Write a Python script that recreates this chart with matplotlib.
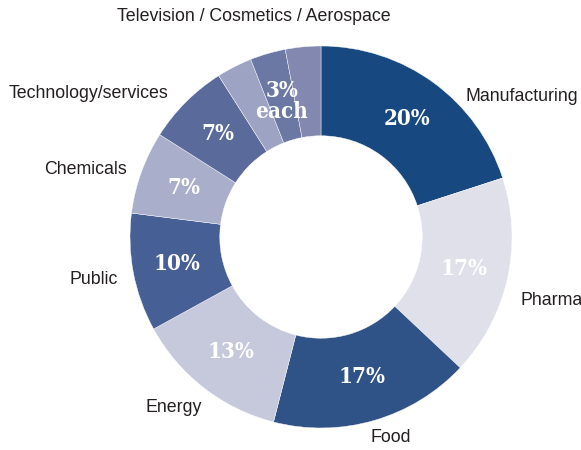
import matplotlib
matplotlib.use("Agg")
import matplotlib.pyplot as plt
import numpy as np

# Anteile der Branchen, im Uhrzeigersinn ab 12 Uhr
sektoren = ["Manufacturing", "Pharma", "Food", "Energy", "Public",
            "Chemicals", "Technology/services", "Television", "Cosmetics", "Aerospace"]
anteile = [20, 17, 17, 13, 10, 7, 7, 3, 3, 3]
farben = ["#17487f", "#dfe0ea", "#305387", "#c6c8dc", "#465f94",
          "#a9aeca", "#5a6a9a", "#9da3c2", "#6b78a4", "#8288b0"]

# Beschriftungen aussen (die drei kleinen Sektoren teilen sich eine)
aussen_text = ["Manufacturing", "Pharma", "Food", "Energy", "Public",
               "Chemicals", "Technology/services", "Television / Cosmetics / Aerospace"]
aussen_pos = [(0.754, 0.738, "left"), (1.042, -0.330, "left"), (0.366, -1.052, "center"),
              (-0.623, -0.895, "right"), (-1.063, -0.220, "right"), (-1.016, 0.351, "right"),
              (-0.801, 0.749, "right"), (-0.351, 1.152, "center")]

fig = plt.figure(figsize=(5.81, 4.5), dpi=100)
ax = fig.add_axes([0, 0, 1, 1])

keile, _ = ax.pie(anteile, colors=farben, startangle=90, counterclock=False,
                  radius=1.0, wedgeprops=dict(width=0.47, edgecolor="white", linewidth=0.3))

# Prozentwerte in der Mitte des Rings
r_text = 0.765
prozent_font = dict(family="DejaVu Serif", weight="bold", stretch="condensed",
                    size=16, color="white")
grenzen = np.cumsum([0] + anteile)
for i in range(7):
    winkel = np.deg2rad(90 - 3.6 * (grenzen[i] + grenzen[i + 1]) / 2)
    ax.text(r_text * np.cos(winkel), r_text * np.sin(winkel), "%d%%" % anteile[i],
            ha="center", va="center", **prozent_font)
winkel = np.deg2rad(90 - 3.6 * (grenzen[7] + grenzen[10]) / 2)
ax.text(0.74 * np.cos(winkel), 0.74 * np.sin(winkel), "%d%%\neach" % anteile[7],
        ha="center", va="center", linespacing=0.95, **prozent_font)

for text, (x, y, ha) in zip(aussen_text, aussen_pos):
    ax.text(x, y, text, ha=ha, va="center", family="Liberation Sans",
            size=12.8, color="#231f20")

ax.set_xlim(-321 / 191, 260 / 191)
ax.set_ylim(-213 / 191, 237 / 191)
ax.set_aspect("equal")
ax.axis("off")

fig.savefig("out.png", dpi=100)
